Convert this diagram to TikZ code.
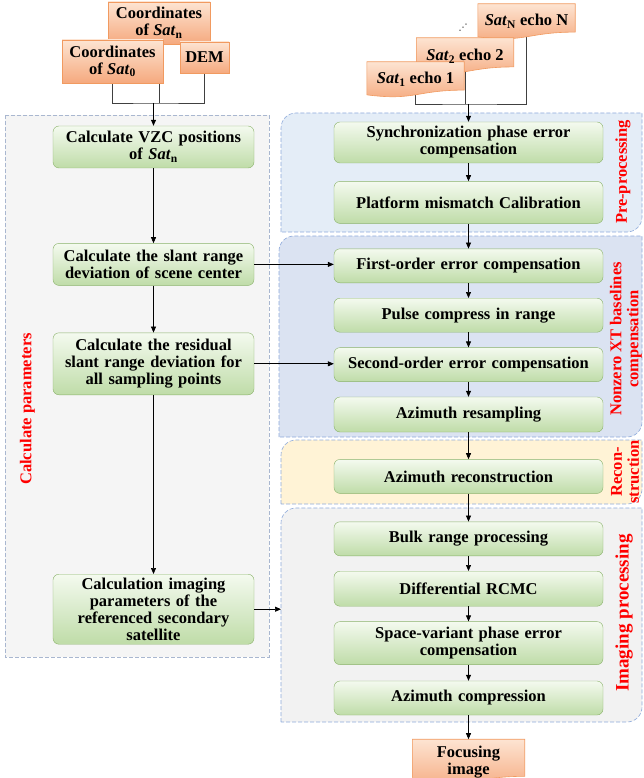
\documentclass[tikz,border=0pt]{standalone}
\usepackage{fontspec}
\setmainfont{Liberation Serif}
\newfontfamily\dotsfont{DejaVu Sans}
\usetikzlibrary{arrows.meta,positioning,calc}

\definecolor{greentop}{HTML}{F4FAEF}
\definecolor{greenbot}{HTML}{BFDCA8}
\definecolor{greenline}{HTML}{8AB26A}
\definecolor{orangetop}{HTML}{FDE4D2}
\definecolor{orangebot}{HTML}{F5A97E}
\definecolor{orangeline}{HTML}{F19A60}
\definecolor{wiregray}{HTML}{404040}
\definecolor{grpblue}{HTML}{8EAADB}
\definecolor{calcline}{HTML}{A9B7D0}
\definecolor{calcfill}{HTML}{F5F5F5}
\definecolor{prefill}{HTML}{E4EDF7}
\definecolor{xtfill}{HTML}{DBE3F2}
\definecolor{recfill}{HTML}{FFF3D6}
\definecolor{imgfill}{HTML}{F2F2F2}

\pgfdeclarelayer{groups}
\pgfdeclarelayer{wires}
\pgfdeclarelayer{sheets}
\pgfsetlayers{groups,wires,sheets,main}

\tikzset{
  calcbox/.style={draw=greenline, rounded corners=6pt, top color=greentop,
    bottom color=greenbot, align=center, text width=193pt, inner xsep=4pt,
    inner ysep=2pt},
  procbox/.style={calcbox, text width=261pt},
  inbox/.style={draw=orangeline, top color=orangetop, bottom color=orangebot,
    align=center, inner sep=2pt},
  docbox/.style={align=center, inner sep=2pt},
  sheet/.style={draw=orangeline, top color=orangetop, bottom color=orangebot,
    line width=0.6pt},
  grp/.style={inner sep=0pt, outer sep=0pt},
  grpline/.style={draw=grpblue, dash pattern=on 4pt off 2pt, line width=0.6pt},
  tag/.style={text=red, rotate=90, align=center},
  wire/.style={draw=wiregray, line width=0.8pt},
  arr/.style={-{Triangle[length=6pt,width=5pt]}, line width=0.7pt}
}

\begin{document}
\begin{tikzpicture}[x=1pt, y=-1pt, node distance=15pt,
    font=\bfseries\fontsize{16.5}{17}\selectfont]
  \useasboundingbox (0,0) rectangle (643,778);

  % inputs
  \node[inbox, minimum width=102pt, minimum height=42pt] (crdn) at (159,23)
    {Coordinates\\of \textit{Sat}\textsubscript{n}};
  \node[inbox, minimum width=101pt, minimum height=43pt] (crd0) at (112.5,61.5)
    {Coordinates\\of \textit{Sat}\textsubscript{0}};
  \node[inbox, minimum width=49pt, minimum height=31pt] (dem) at (204.5,57.5) {DEM};
  \node[docbox, minimum width=97pt, minimum height=35pt] (sN) at (526.5,21.5)
    {\textit{Sat}\textsubscript{N} echo N};
  \node[docbox, minimum width=97pt, minimum height=36pt] (s2) at (465,56)
    {\textit{Sat}\textsubscript{2} echo 2};
  \node[docbox, minimum width=97pt, minimum height=35pt] (s1) at (415.5,79.5)
    {\textit{Sat}\textsubscript{1} echo 1};
  \node[font=\dotsfont\fontsize{9}{9}\selectfont, inner sep=0pt] (dots) at (463,28) {⋰};

  % groups
  \node[grp, minimum width=264pt, minimum height=542pt, anchor=north west] (calcgrp) at (5,115) {};
  \node[grp, minimum width=361pt, minimum height=119pt, anchor=north west] (pregrp) at (281,113) {};
  \node[grp, minimum width=363pt, minimum height=201pt, anchor=north west] (xtgrp) at (279,236) {};
  \node[grp, minimum width=361pt, minimum height=64pt, anchor=north west] (recgrp) at (281,440) {};
  \node[grp, minimum width=361pt, minimum height=214pt, anchor=north west] (imggrp) at (281,508) {};

  \node[tag] (calctag) at (27.5,409) {Calculate parameters};
  \node[tag] (pretag) at (623,172) {Pre-processing};
  \node[tag] (xttag) at (626,339) {Nonzero XT baselines\\compensation};
  \node[tag] (rectag) at (625,472) {Recon-\\struction};
  \node[tag, font=\bfseries\fontsize{19}{21}\selectfont] (imgtag) at (624,613) {Imaging processing};

  % parameter column
  \node[calcbox, minimum height=42pt] (vzc) at (153.5,147)
    {Calculate VZC positions\\of \textit{Sat}\textsubscript{n}};
  \node[calcbox, minimum height=42pt, below=75pt of vzc] (slant)
    {Calculate the slant range\\deviation of scene center};
  \node[calcbox, minimum height=62pt, below=47pt of slant] (resid)
    {Calculate the residual\\slant range deviation for\\all sampling points};
  \node[calcbox, minimum height=70pt, below=179pt of resid] (refsat)
    {Calculation imaging\\parameters of the\\referenced secondary\\satellite};

  % processing column
  \node[procbox, minimum height=41pt] (sync) at (468.5,142.5)
    {Synchronization phase error\\compensation};
  \node[procbox, minimum height=42pt, below=18pt of sync] (mis) {Platform mismatch Calibration};
  \node[procbox, minimum height=34pt, below=25pt of mis] (first) {First-order error compensation};
  \node[procbox, minimum height=34pt, below=of first] (pulse) {Pulse compress in range};
  \node[procbox, minimum height=34pt, below=of pulse] (second) {Second-order error compensation};
  \node[procbox, minimum height=35pt, below=of second] (resamp) {Azimuth resampling};
  \node[procbox, minimum height=34pt, below=27pt of resamp] (recon) {Azimuth reconstruction};
  \node[procbox, minimum height=34pt, below=28pt of recon] (bulk) {Bulk range processing};
  \node[procbox, minimum height=35pt, below=of bulk] (rcmc) {Differential RCMC};
  \node[procbox, minimum height=43pt, below=of rcmc] (svpe)
    {Space-variant phase error\\compensation};
  \node[procbox, minimum height=34pt, below=16pt of svpe] (azc) {Azimuth compression};
  \node[docbox, minimum width=112pt, minimum height=46pt, below=24pt of azc] (focus)
    {Focusing\\image};

  \begin{pgfonlayer}{groups}
    \draw[grpline, draw=calcline, fill=calcfill] (calcgrp.north west) rectangle (calcgrp.south east);
    % rounded top-left and bottom-right only
    \foreach \g/\c in {pregrp/prefill, xtgrp/xtfill, recgrp/recfill, imggrp/imgfill}
      \draw[grpline, fill=\c] (\g.south west) -- ([yshift=-15pt]\g.north west)
        .. controls ([yshift=-6.7pt]\g.north west) and ([xshift=6.7pt]\g.north west)
        .. ([xshift=15pt]\g.north west) -- (\g.north east) -- ([yshift=15pt]\g.south east)
        .. controls ([yshift=6.7pt]\g.south east) and ([xshift=-6.7pt]\g.south east)
        .. ([xshift=-15pt]\g.south east) -- cycle;
  \end{pgfonlayer}

  \begin{pgfonlayer}{sheets}
    \foreach \d in {sN,s2,s1,focus}
      \path[sheet] (\d.north west) -- (\d.north east) -- ($(\d.north east)!0.8!(\d.south east)$)
        .. controls ($(\d.north)!0.8!(\d.south)$) and ($(\d.north)!1.108!(\d.south)$)
        .. ($(\d.north west)!0.934!(\d.south west)$) -- cycle;
  \end{pgfonlayer}

  \begin{pgfonlayer}{wires}
    \coordinate (inL) at (153.5,103);
    \coordinate (inR) at (468.5,104);
    \draw[wire] (crd0.south) |- (inL) -| (dem.south);
    \draw[wire] (crdn.south) -- (crdn.south |- inL);
    \draw[wire] (s1.center) |- (inR) -| (sN.center);
    \draw[wire] (s2.center) -- (s2.center |- inR);
  \end{pgfonlayer}

  \draw[arr] (inL) -- (vzc);
  \draw[arr] (inR) -- (sync);
  \foreach \a/\b in {vzc/slant, slant/resid, resid/refsat, sync/mis, mis/first,
      first/pulse, pulse/second, second/resamp, resamp/recon, recon/bulk,
      bulk/rcmc, rcmc/svpe, svpe/azc, azc/focus}
    \draw[arr] (\a) -- (\b);
  \draw[arr] (slant) -- (slant -| first.west);
  \draw[arr] (resid) -- (resid -| second.west);
  \draw[arr] (refsat) -- (refsat -| imggrp.west);
\end{tikzpicture}
\end{document}
